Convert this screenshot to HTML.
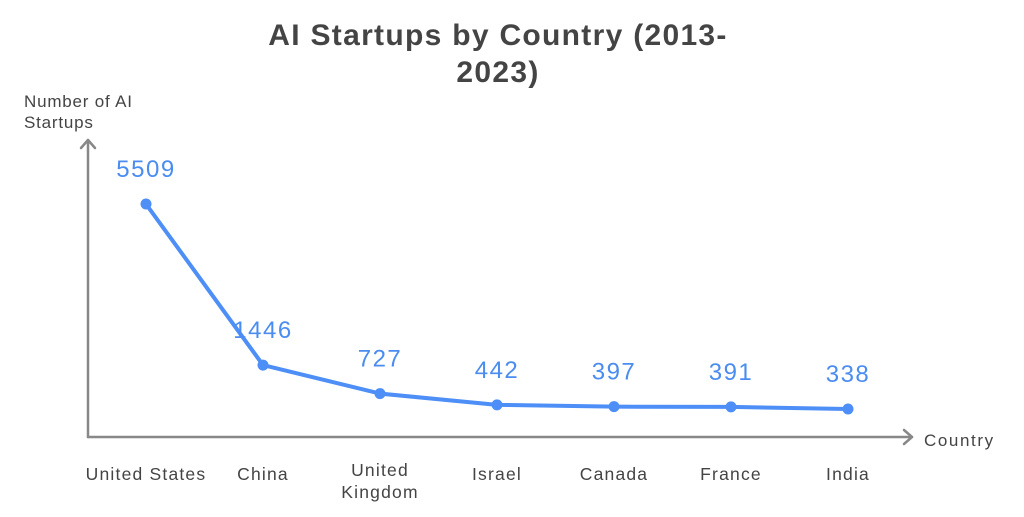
<!DOCTYPE html>
<html><head><meta charset="utf-8"><style>
html,body{margin:0;padding:0;background:#fff;}
svg{display:block;font-family:"Liberation Sans",sans-serif;}
</style></head><body>
<svg id="chart" width="1024" height="517" viewBox="0 0 1024 517">
<text x="498" y="45" text-anchor="middle" font-size="30" font-weight="bold" fill="#444" letter-spacing="1.3">AI Startups by Country (2013-<tspan x="498" dy="37">2023)</tspan></text>
<text x="24" y="107" font-size="17" fill="#444" letter-spacing="0.8">Number of AI<tspan x="24" dy="21">Startups</tspan></text>
<text x="924" y="446" font-size="17" fill="#444" letter-spacing="1.6">Country</text>
<g stroke="#888" stroke-width="2.5" fill="none" stroke-linecap="round" stroke-linejoin="round">
<line x1="88" y1="437" x2="88" y2="140"/>
<polyline points="81,148 88,140 95,148"/>
<line x1="88" y1="437" x2="912" y2="437"/>
<polyline points="904,430 912,437 904,444"/>
</g>
<g id="marks"></g>
</svg>
<script>
const categories=["United States","China","United Kingdom","Israel","Canada","France","India"];
const values=[5509,1446,727,442,397,391,338];
const labels=["5509","1446","727","442","397","391","338"];
function xPos(i){return 146+i*117;}
function yPos(v){return 422.4-v*0.03964;}
const g=document.getElementById('marks');
const ns="http://www.w3.org/2000/svg";
const line=document.createElementNS(ns,'polyline');


line.setAttribute('points',values.map((v,i)=>xPos(i)+','+yPos(v)).join(' '));
line.setAttribute('fill','none');line.setAttribute('stroke','#4d8ef7');line.setAttribute('stroke-width','4');line.setAttribute('stroke-linejoin','round');
g.appendChild(line);
values.forEach((v,i)=>{
 const c=document.createElementNS(ns,'circle');
 
 
 c.setAttribute('cx',xPos(i));c.setAttribute('cy',yPos(v));c.setAttribute('r','5.5');c.setAttribute('fill','#4d8ef7');
 g.appendChild(c);
 const t=document.createElementNS(ns,'text');
 
 
 t.setAttribute('x',xPos(i));t.setAttribute('y',yPos(v)-27);t.setAttribute('text-anchor','middle');
 t.setAttribute('font-size','24');t.setAttribute('letter-spacing','1.5');t.setAttribute('fill','#4a8cf0');t.textContent=labels[i];
 g.appendChild(t);
 const l=document.createElementNS(ns,'text');
 
 
 l.setAttribute('text-anchor','middle');l.setAttribute('font-size','17.5');l.setAttribute('letter-spacing','1.2');l.setAttribute('fill','#444');
 const words=categories[i]==="United Kingdom"?["United","Kingdom"]:[categories[i]];
 words.forEach((w,k)=>{const s=document.createElementNS(ns,'tspan');s.setAttribute('x',xPos(i));s.setAttribute('y',words.length>1?476+k*22:480);s.textContent=w;l.appendChild(s);});
 g.appendChild(l);
});
</script>
</body></html>
